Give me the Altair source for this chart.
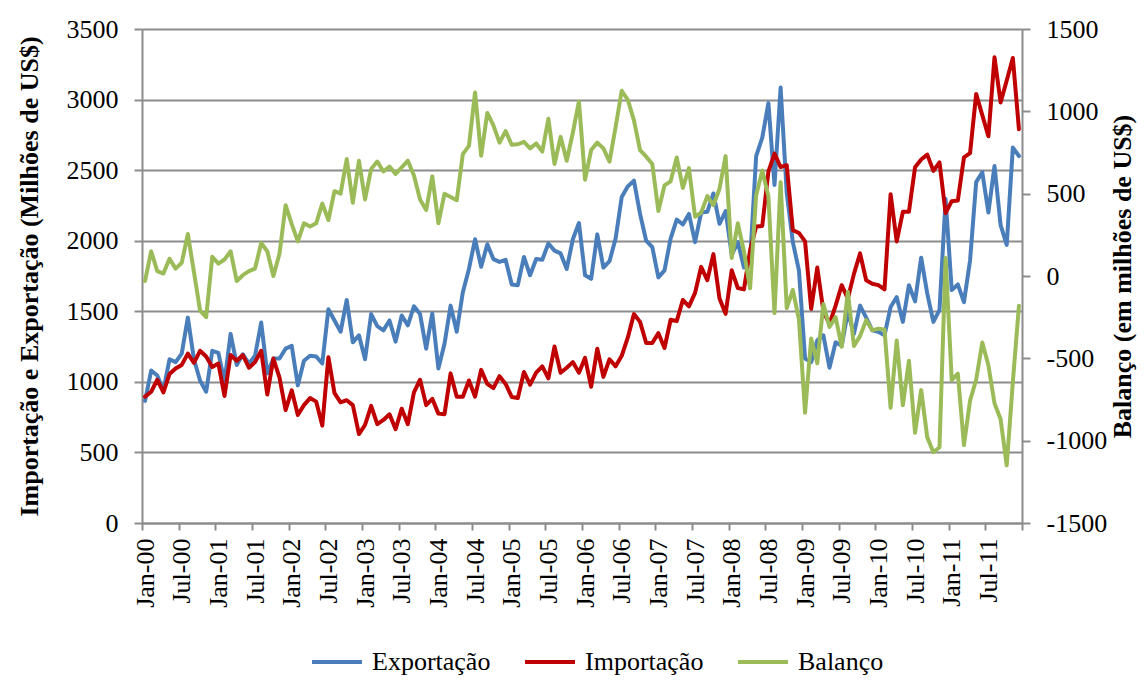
import altair as alt
import pandas as pd

# ---- data (monthly, Jan-2000 .. Dec-2011) ----
tick_labels = [
    "Jan-00", "Jul-00", "Jan-01", "Jul-01", "Jan-02", "Jul-02", "Jan-03", "Jul-03",
    "Jan-04", "Jul-04", "Jan-05", "Jul-05", "Jan-06", "Jul-06", "Jan-07", "Jul-07",
    "Jan-08", "Jul-08", "Jan-09", "Jul-09", "Jan-10", "Jul-10", "Jan-11", "Jul-11",
]

exportacao = [
    865, 1080, 1045, 940, 1160, 1140, 1200, 1455, 1160, 1010, 930, 1220,
    1205, 1000, 1340, 1120, 1195, 1130, 1185, 1420, 1060, 1165, 1165, 1235,
    1255, 975, 1150, 1185, 1180, 1130, 1515, 1435, 1355, 1580, 1280, 1330,
    1160, 1480, 1395, 1365, 1435, 1285, 1470, 1400, 1535, 1480, 1235, 1485,
    1095, 1270, 1540, 1355, 1635, 1800, 2010, 1815, 1975, 1870, 1850, 1865,
    1690, 1685, 1885, 1755, 1870, 1865, 1980, 1930, 1910, 1800, 2010, 2125,
    1755, 1730, 2045, 1810, 1855, 2015, 2310, 2385, 2425, 2190, 2000, 1955,
    1740, 1790, 2015, 2150, 2115, 2190, 1990, 2200, 2205, 2335, 2120, 2210,
    1900, 1990, 1810, 1855, 2600, 2730, 2975, 2395, 3085, 2340, 1990, 1790,
    1165, 1140, 1295, 1330, 1100, 1280, 1255, 1495, 1340, 1540, 1455, 1365,
    1355, 1330, 1530, 1600, 1425, 1685, 1570, 1880, 1625, 1425, 1510, 2295,
    1650, 1690, 1565, 1860, 2415, 2485, 2200, 2530, 2110, 1970, 2660, 2600,
]

importacao = [
    895, 930, 1015, 925, 1055, 1095, 1120, 1200, 1135, 1220, 1180, 1105,
    1130, 900, 1190, 1150, 1190, 1100, 1140, 1220, 910, 1165, 1030, 800,
    940, 765, 835, 885, 860, 690, 1175, 920, 855, 870, 835, 630,
    695, 830, 700, 730, 770, 665, 810, 700, 925, 1015, 835, 880,
    775, 770, 1060, 895, 895, 1010, 895, 1085, 985, 955, 1040, 985,
    893, 885, 1070, 980, 1065, 1110, 1025, 1250, 1065, 1100, 1140, 1065,
    1170, 965, 1235, 1035, 1160, 1110, 1185, 1315, 1480, 1425, 1275, 1275,
    1345, 1240, 1440, 1430, 1580, 1535, 1630, 1815, 1720, 1905, 1590, 1482,
    1790, 1665, 1655, 1930, 2100, 2105, 2490, 2617, 2522, 2535, 2075, 2055,
    1995, 1517, 1810, 1500, 1410, 1540, 1685, 1590, 1765, 1910, 1720, 1695,
    1685, 1655, 2330, 1995, 2205, 2205, 2520, 2575, 2610, 2495, 2555, 2195,
    2280, 2285, 2590, 2620, 3040, 2890, 2740, 3300, 2980, 3135, 3295, 2790,
]

balanco = [
    -30, 150, 30, 15, 105, 45, 80, 255, 25, -210, -250, 117,
    75, 100, 150, -30, 5, 30, 45, 200, 150, 0, 135, 430,
    315, 210, 320, 300, 320, 440, 340, 515, 500, 710, 445, 700,
    465, 650, 695, 635, 665, 620, 660, 700, 610, 465, 400, 605,
    320, 500, 480, 460, 740, 790, 1115, 730, 990, 915, 810, 880,
    797, 800, 815, 775, 805, 755, 955, 680, 845, 700, 870, 1060,
    585, 765, 810, 775, 695, 905, 1125, 1070, 945, 765, 725, 680,
    395, 550, 575, 720, 535, 655, 360, 385, 485, 430, 530, 728,
    110, 320, 150, -75, 490, 640, 485, -225, 570, -195, -85, -265,
    -830, -380, -530, -170, -310, -250, -430, -95, -425, -365, -268, -330,
    -320, -325, -800, -392, -785, -515, -952, -693, -980, -1070, -1040, 110,
    -632, -593, -1027, -757, -630, -404, -542, -773, -870, -1150, -645, -180,
]

series_names = ["Exportação", "Importação", "Balanço"]
series_colors = ["#4A7EBB", "#C00000", "#9BBB59"]

rows = []
for name, values in zip(series_names, [exportacao, importacao, balanco]):
    for i, v in enumerate(values):
        rows.append({"mes": i, "serie": name, "valor": v})
df = pd.DataFrame(rows)

n = len(exportacao)
FONT = "Liberation Serif"
GRAY = "#8C8C8C"

tick_vals = [-0.5 + 6 * k for k in range(n // 6 + 1)]
label_js = "[" + ",".join("'%s'" % s for s in tick_labels) + "]"
label_expr = label_js + "[round((datum.value + 0.5) / 6)] || ''"

x_enc = alt.X(
    "mes:Q",
    scale=alt.Scale(domain=[-0.5, n - 0.5], nice=False, zero=False),
    axis=alt.Axis(
        values=tick_vals, labelExpr=label_expr, labelAngle=270, labelOffset=3,
        grid=False, tickSize=7, tickColor=GRAY, tickWidth=2,
        domainColor=GRAY, domainWidth=2, labelFont=FONT, labelFontSize=26,
        labelColor="black", labelPadding=8, title=None, labelOverlap=False,
        labelBound=False, labelFlush=False,
    ),
)

color_enc = alt.Color(
    "serie:N",
    sort=series_names,
    scale=alt.Scale(domain=series_names, range=series_colors),
    legend=alt.Legend(
        title=None, orient="none", legendX=168, legendY=606,
        direction="horizontal", symbolType="stroke", symbolSize=2500,
        symbolStrokeWidth=4, labelFont=FONT, labelFontSize=26,
        labelColor="black", columnPadding=26, labelOffset=8, labelLimit=0,
    ),
)

left = (
    alt.Chart(df)
    .transform_filter("datum.serie != 'Balanço'")
    .mark_line(strokeWidth=4, strokeJoin="round", strokeCap="round")
    .encode(
        x=x_enc,
        y=alt.Y(
            "valor:Q",
            scale=alt.Scale(domain=[0, 3500], nice=False),
            axis=alt.Axis(
                orient="left", values=list(range(0, 3501, 500)),
                labelExpr="'' + datum.value",
                title="Importação e Exportação (Milhões de US$)",
                titleFont=FONT, titleFontSize=26, titleFontWeight="bold",
                titleColor="black", titlePadding=24,
                labelFont=FONT, labelFontSize=26, labelColor="black",
                labelPadding=16, tickSize=8, tickColor=GRAY, tickWidth=2,
                domainColor=GRAY, domainWidth=2,
                grid=True, gridColor=GRAY, gridWidth=2,
            ),
        ),
        color=color_enc,
    )
)

right = (
    alt.Chart(df)
    .transform_filter("datum.serie == 'Balanço'")
    .mark_line(strokeWidth=4, strokeJoin="round", strokeCap="round")
    .encode(
        x=x_enc,
        y=alt.Y(
            "valor:Q",
            scale=alt.Scale(domain=[-1500, 1500], nice=False),
            axis=alt.Axis(
                orient="right", values=list(range(-1500, 1501, 500)),
                labelExpr="'' + datum.value",
                title="Balanço (em milhões de US$)",
                titleFont=FONT, titleFontSize=26, titleFontWeight="bold",
                titleColor="black", titlePadding=29, titleAngle=270,
                labelFont=FONT, labelFontSize=26, labelColor="black",
                labelPadding=16, tickSize=8, tickColor=GRAY, tickWidth=2,
                domainColor=GRAY, domainWidth=2, grid=False,
            ),
        ),
        color=color_enc,
    )
)

chart = (
    alt.layer(left, right)
    .resolve_scale(y="independent")
    .properties(
        width=880, height=494,
        autosize=alt.AutoSizeParams(type="none"),
        padding={"left": 134, "top": 21, "right": 117, "bottom": 155},
        background="white",
    )
    .configure_view(stroke=None)
)

chart.save("out.html", embed_options={"renderer": "svg", "actions": False})
